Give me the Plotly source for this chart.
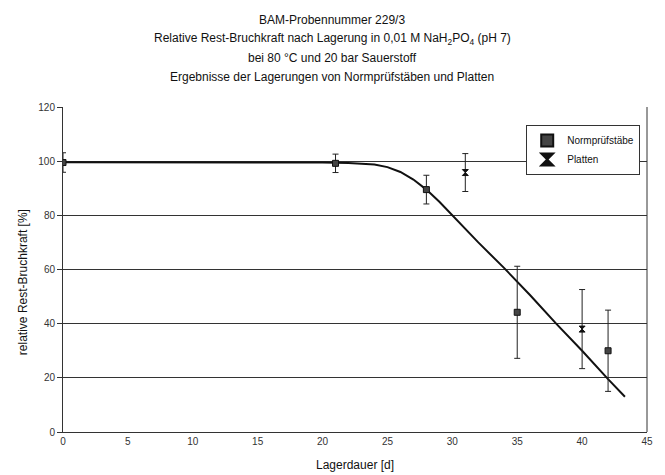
import plotly.graph_objects as go

# Normprüfstäbe (squares)
norm_days = [0, 21, 28, 35, 42]
norm_vals = [99.5, 99.2, 89.5, 44.2, 30.0]
norm_err = [3.6, 3.4, 5.3, 17.0, 15.0]

# Platten (hourglass markers)
platten_days = [31, 40]
platten_vals = [95.8, 38.0]
platten_err = [7.0, 14.6]

# fitted curve
fit_days = [0, 5, 10, 15, 20, 22, 24, 25, 26, 27, 28, 29, 30, 32, 34, 36, 38, 40, 42, 43.3]
fit_vals = [99.6, 99.6, 99.6, 99.6, 99.5, 99.3, 98.8, 97.8, 96.0, 93.2, 89.5, 85.0, 80.0,
            70.0, 60.5, 50.5, 40.0, 30.0, 19.5, 13.0]

x_ticks = [0, 5, 10, 15, 20, 25, 30, 35, 40, 45]
y_ticks = [0, 20, 40, 60, 80, 100, 120]

title_lines = [
    "BAM-Probennummer 229/3",
    "Relative Rest-Bruchkraft nach Lagerung in 0,01 M NaH<sub>2</sub>PO<sub>4</sub> (pH 7)",
    "bei 80 °C und 20 bar Sauerstoff",
    "Ergebnisse der Lagerungen von Normprüfstäben und Platten",
]
x_title = "Lagerdauer [d]"
y_title = "relative Rest-Bruchkraft [%]"

FONT = "Liberation Sans, Arial, sans-serif"

W, H = 657, 467          # page has an 8px body margin
M_L, M_R, M_T, M_B = 55, 16, 99, 43
PW = W - M_L - M_R
PH = H - M_T - M_B


def px_x(x):
    return (x - M_L) / PW


def px_y(y):
    return (H - M_B - y) / PH


fig = go.Figure()
fig.add_trace(go.Scatter(
    x=fit_days, y=fit_vals, mode="lines",
    line=dict(color="#111", width=2), showlegend=False, hoverinfo="skip"))
fig.add_trace(go.Scatter(
    x=norm_days, y=norm_vals, mode="markers", name="Normprüfstäbe",
    marker=dict(symbol="square", size=6, color="#444", line=dict(color="#111", width=1)),
    error_y=dict(type="data", array=norm_err, color="#222", thickness=1, width=3)))
fig.add_trace(go.Scatter(
    x=platten_days, y=platten_vals, mode="markers", name="Platten",
    marker=dict(symbol="hourglass", size=6, color="#111", line=dict(color="#111", width=1)),
    error_y=dict(type="data", array=platten_err, color="#222", thickness=1, width=3)))

annotations = []
for t, ypx in zip(title_lines, [12, 31, 50, 69]):
    annotations.append(dict(
        text=t, xref="paper", yref="paper", x=px_x(325), y=px_y(ypx),
        xanchor="center", yanchor="middle", showarrow=False,
        font=dict(family=FONT, size=12, color="#111")))
annotations.append(dict(
    text=x_title, xref="paper", yref="paper", x=px_x(348), y=px_y(457),
    xanchor="center", yanchor="middle", showarrow=False,
    font=dict(family=FONT, size=12, color="#111")))
annotations.append(dict(
    text=y_title, xref="paper", yref="paper", x=px_x(15), y=px_y(274),
    xanchor="center", yanchor="middle", showarrow=False, textangle=-90,
    font=dict(family=FONT, size=12, color="#111")))

fig.update_layout(
    width=W, height=H,
    margin=dict(l=M_L, r=M_R, t=M_T, b=M_B),
    paper_bgcolor="white", plot_bgcolor="white",
    font=dict(family=FONT, size=10, color="#222"),
    annotations=annotations,
    legend=dict(x=px_x(577), y=px_y(142), xanchor="center", yanchor="middle",
                bordercolor="#333", borderwidth=1, bgcolor="white",
                font=dict(family=FONT, size=10, color="#111"),
                itemsizing="constant", itemwidth=30, tracegroupgap=0),
    showlegend=True,
)
fig.update_xaxes(
    range=[0, 45], tickvals=x_ticks,
    showgrid=False, zeroline=False, showline=True, linecolor="#333", linewidth=1,
    ticks="", tickfont=dict(size=10, color="#333"))
fig.update_yaxes(
    range=[0, 120], tickvals=y_ticks,
    showgrid=True, gridcolor="#333", gridwidth=1, zeroline=False,
    showline=True, linecolor="#333", linewidth=1, ticks="outside", ticklen=5,
    tickcolor="#333", tickfont=dict(size=10, color="#333"))
# right border of the plot area
fig.add_shape(type="line", xref="paper", yref="paper", x0=1, x1=1, y0=0, y1=1,
              line=dict(color="#333", width=1))

fig.write_html("out.html")
